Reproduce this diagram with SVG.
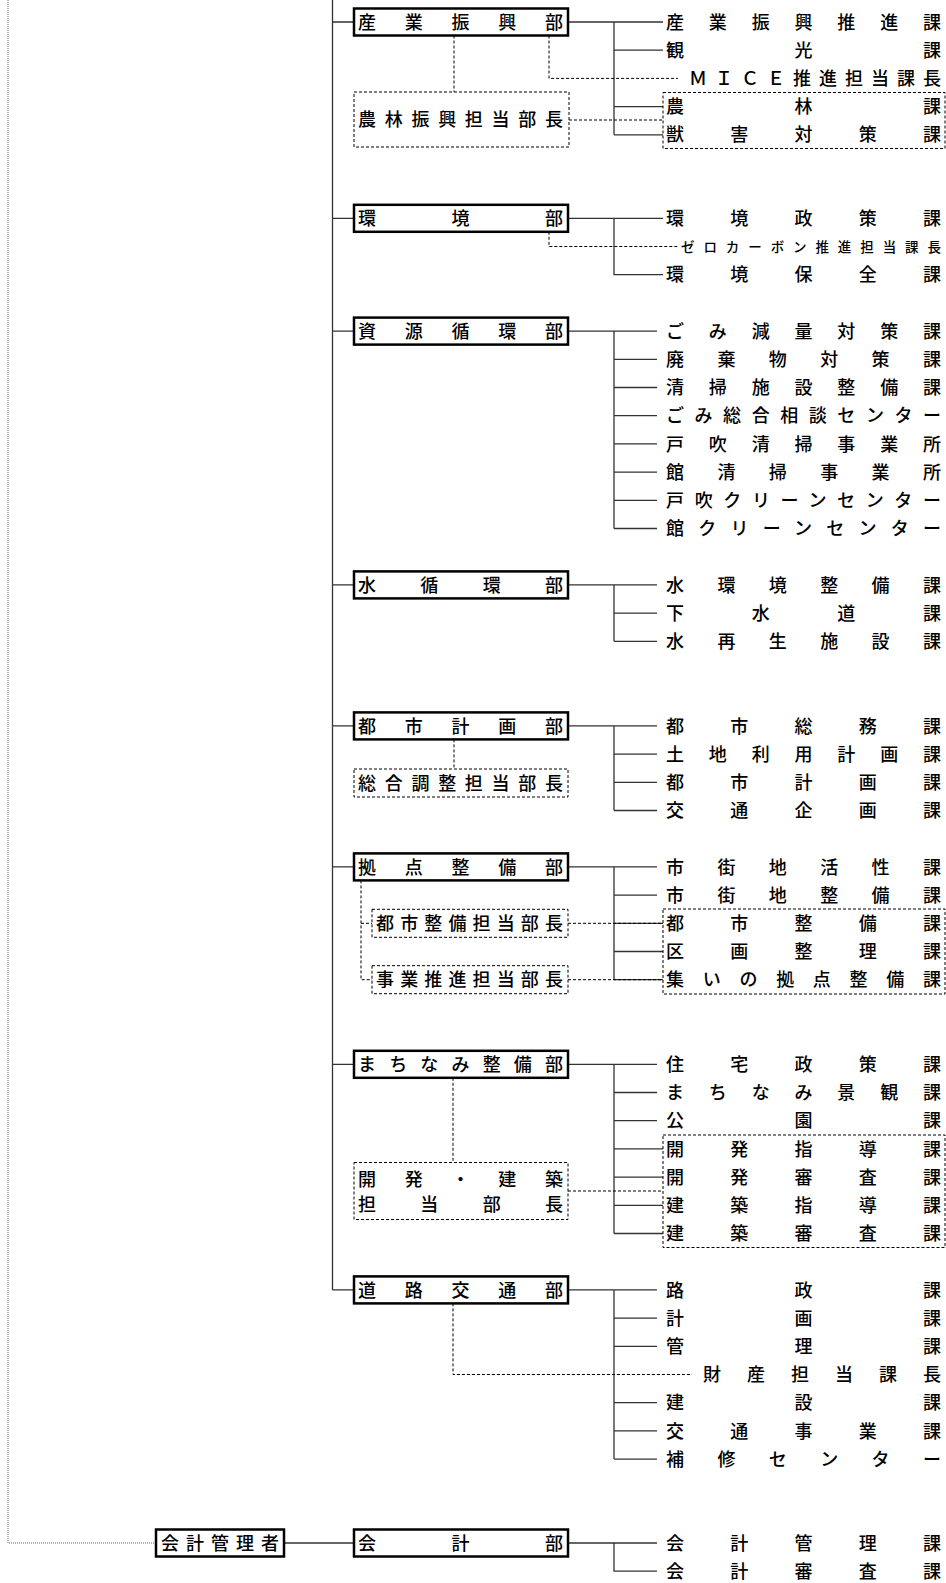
<svg xmlns="http://www.w3.org/2000/svg" width="946" height="1583" viewBox="0 0 946 1583">
<style>
text{font-family:"Noto Sans CJK JP","Noto Sans CJK SC",sans-serif;font-size:18px;font-weight:500;fill:#000}
text.s{font-size:13.5px}
.box{fill:#fff;stroke:#000;stroke-width:2.5}
.dbox{fill:none;stroke:#000;stroke-width:1;stroke-dasharray:3 2}
.ln{fill:none;stroke:#333;stroke-width:1.3}
.dl{fill:none;stroke:#000;stroke-width:1;stroke-dasharray:3 2}
.dot{fill:none;stroke:#666;stroke-width:1;stroke-dasharray:1 1}
</style>
<rect width="946" height="1583" fill="#fff"/>
<g id="connectors">
<path class="dot" d="M8 0V1543H156"/>
<path class="ln" d="M332.5 0V1289.9M332.5 22H354M332.5 218.3H354M332.5 331.1H354M332.5 584.9H354M332.5 725.9H354M332.5 866.9H354M332.5 1064.3H354M332.5 1289.9H354"/>
<path class="ln" d="M568 22H663M614 22V134.8M614 50.2H663M614 106.6H663M614 134.8H663"/>
<path class="ln" d="M568 218.3H663M614 218.3V274.7H663"/>
<path class="ln" d="M568 331.1H657M614 331.1V528.5M614 359.3H657M614 387.5H657M614 415.7H657M614 443.9H657M614 472.1H657M614 500.3H657M614 528.5H657"/>
<path class="ln" d="M568 584.9H657M614 584.9V641.3M614 613.1H657M614 641.3H657"/>
<path class="ln" d="M568 725.9H657M614 725.9V810.5M614 754.1H657M614 782.3H657M614 810.5H657"/>
<path class="ln" d="M568 866.9H657M614 866.9V979.7M614 895.1H657M614 923.3H663M614 951.5H663M614 979.7H663"/>
<path class="ln" d="M568 1064.3H657M614 1064.3V1233.5M614 1092.5H657M614 1120.7H657M614 1148.9H663M614 1177.1H663M614 1205.3H663M614 1233.5H663"/>
<path class="ln" d="M568 1289.9H657M614 1289.9V1459.1M614 1318.1H657M614 1346.3H657M614 1402.7H657M614 1430.9H657M614 1459.1H657"/>
<path class="ln" d="M284 1543H354M568 1543H657M614 1543V1571.2H657"/>
<path class="dl" d="M454 35.5V92M549 35.5V78.4H678M569 120H663"/>
<path class="dl" d="M549 231.8V246.5H679"/>
<path class="dl" d="M454 739.4V769"/>
<path class="dl" d="M361 880.4V979.7H372M361 923.3H372M568 923.3H663M568 979.7H663"/>
<path class="dl" d="M453 1077.8V1162.5M568 1191H663"/>
<path class="dl" d="M453 1303.4V1374.5H692"/>
</g>
<g id="dept-sangyo">
<rect class="box" x="354" y="8.5" width="214" height="27"/>
<text x="358" y="28.6" textLength="205" lengthAdjust="spacing">産業振興部</text>
</g>
<g id="sub-norin">
<rect class="dbox" x="354" y="92" width="215" height="55"/>
<text x="358" y="126.1" textLength="205" lengthAdjust="spacing">農林振興担当部長</text>
</g>
<g id="sangyo-children">
<rect class="dbox" x="663" y="92.5" width="282" height="56"/>
<text x="666" y="28.6" textLength="275" lengthAdjust="spacing">産業振興推進課</text>
<text x="666" y="56.8" textLength="275" lengthAdjust="spacing">観光課</text>
<text x="689" y="85" textLength="252" lengthAdjust="spacing">ＭＩＣＥ推進担当課長</text>
<text x="666" y="113.2" textLength="275" lengthAdjust="spacing">農林課</text>
<text x="666" y="141.4" textLength="275" lengthAdjust="spacing">獣害対策課</text>
</g>
<g id="dept-kankyo">
<rect class="box" x="354" y="204.8" width="214" height="27"/>
<text x="358" y="224.9" textLength="205" lengthAdjust="spacing">環境部</text>
</g>
<g id="kankyo-children">
<text x="666" y="224.9" textLength="275" lengthAdjust="spacing">環境政策課</text>
<text class="s" x="681" y="251.5" textLength="260" lengthAdjust="spacing">ゼロカーボン推進担当課長</text>
<text x="666" y="281.3" textLength="275" lengthAdjust="spacing">環境保全課</text>
</g>
<g id="dept-shigen">
<rect class="box" x="354" y="317.6" width="214" height="27"/>
<text x="358" y="337.7" textLength="205" lengthAdjust="spacing">資源循環部</text>
</g>
<g id="shigen-children">
<text x="666" y="337.7" textLength="275" lengthAdjust="spacing">ごみ減量対策課</text>
<text x="666" y="365.9" textLength="275" lengthAdjust="spacing">廃棄物対策課</text>
<text x="666" y="394.1" textLength="275" lengthAdjust="spacing">清掃施設整備課</text>
<text x="666" y="422.3" textLength="275" lengthAdjust="spacing">ごみ総合相談センター</text>
<text x="666" y="450.5" textLength="275" lengthAdjust="spacing">戸吹清掃事業所</text>
<text x="666" y="478.7" textLength="275" lengthAdjust="spacing">館清掃事業所</text>
<text x="666" y="506.9" textLength="275" lengthAdjust="spacing">戸吹クリーンセンター</text>
<text x="666" y="535.1" textLength="275" lengthAdjust="spacing">館クリーンセンター</text>
</g>
<g id="dept-mizu">
<rect class="box" x="354" y="571.4" width="214" height="27"/>
<text x="358" y="591.5" textLength="205" lengthAdjust="spacing">水循環部</text>
</g>
<g id="mizu-children">
<text x="666" y="591.5" textLength="275" lengthAdjust="spacing">水環境整備課</text>
<text x="666" y="619.7" textLength="275" lengthAdjust="spacing">下水道課</text>
<text x="666" y="647.9" textLength="275" lengthAdjust="spacing">水再生施設課</text>
</g>
<g id="dept-toshikeikaku">
<rect class="box" x="354" y="712.4" width="214" height="27"/>
<text x="358" y="732.5" textLength="205" lengthAdjust="spacing">都市計画部</text>
</g>
<g id="sub-sogo">
<rect class="dbox" x="354" y="769" width="214" height="28"/>
<text x="358" y="789.6" textLength="205" lengthAdjust="spacing">総合調整担当部長</text>
</g>
<g id="toshikeikaku-children">
<text x="666" y="732.5" textLength="275" lengthAdjust="spacing">都市総務課</text>
<text x="666" y="760.7" textLength="275" lengthAdjust="spacing">土地利用計画課</text>
<text x="666" y="788.9" textLength="275" lengthAdjust="spacing">都市計画課</text>
<text x="666" y="817.1" textLength="275" lengthAdjust="spacing">交通企画課</text>
</g>
<g id="dept-kyoten">
<rect class="box" x="354" y="853.4" width="214" height="27"/>
<text x="358" y="873.5" textLength="205" lengthAdjust="spacing">拠点整備部</text>
</g>
<g id="sub-toshiseibi">
<rect class="dbox" x="372" y="909.3" width="196" height="28"/>
<text x="376" y="929.9" textLength="187" lengthAdjust="spacing">都市整備担当部長</text>
</g>
<g id="sub-jigyo">
<rect class="dbox" x="372" y="965.7" width="196" height="28"/>
<text x="376" y="986.3" textLength="187" lengthAdjust="spacing">事業推進担当部長</text>
</g>
<g id="kyoten-children">
<rect class="dbox" x="663" y="909" width="282" height="85"/>
<text x="666" y="873.5" textLength="275" lengthAdjust="spacing">市街地活性課</text>
<text x="666" y="901.7" textLength="275" lengthAdjust="spacing">市街地整備課</text>
<text x="666" y="929.9" textLength="275" lengthAdjust="spacing">都市整備課</text>
<text x="666" y="958.1" textLength="275" lengthAdjust="spacing">区画整理課</text>
<text x="666" y="986.3" textLength="275" lengthAdjust="spacing">集いの拠点整備課</text>
</g>
<g id="dept-machinami">
<rect class="box" x="354" y="1050.8" width="214" height="27"/>
<text x="358" y="1070.9" textLength="205" lengthAdjust="spacing">まちなみ整備部</text>
</g>
<g id="sub-kaihatsu">
<rect class="dbox" x="354" y="1162.5" width="214" height="57"/>
<text x="358" y="1186" textLength="205" lengthAdjust="spacing">開発・建築</text>
<text x="358" y="1210.5" textLength="205" lengthAdjust="spacing">担当部長</text>
</g>
<g id="machinami-children">
<rect class="dbox" x="663" y="1135" width="282" height="112.5"/>
<text x="666" y="1070.9" textLength="275" lengthAdjust="spacing">住宅政策課</text>
<text x="666" y="1099.1" textLength="275" lengthAdjust="spacing">まちなみ景観課</text>
<text x="666" y="1127.3" textLength="275" lengthAdjust="spacing">公園課</text>
<text x="666" y="1155.5" textLength="275" lengthAdjust="spacing">開発指導課</text>
<text x="666" y="1183.7" textLength="275" lengthAdjust="spacing">開発審査課</text>
<text x="666" y="1211.9" textLength="275" lengthAdjust="spacing">建築指導課</text>
<text x="666" y="1240.1" textLength="275" lengthAdjust="spacing">建築審査課</text>
</g>
<g id="dept-doro">
<rect class="box" x="354" y="1276.4" width="214" height="27"/>
<text x="358" y="1296.5" textLength="205" lengthAdjust="spacing">道路交通部</text>
</g>
<g id="doro-children">
<text x="666" y="1296.5" textLength="275" lengthAdjust="spacing">路政課</text>
<text x="666" y="1324.7" textLength="275" lengthAdjust="spacing">計画課</text>
<text x="666" y="1352.9" textLength="275" lengthAdjust="spacing">管理課</text>
<text x="703" y="1381.1" textLength="238" lengthAdjust="spacing">財産担当課長</text>
<text x="666" y="1409.3" textLength="275" lengthAdjust="spacing">建設課</text>
<text x="666" y="1437.5" textLength="275" lengthAdjust="spacing">交通事業課</text>
<text x="666" y="1465.7" textLength="275" lengthAdjust="spacing">補修センター</text>
</g>
<g id="kaikei-kanrisha">
<rect class="box" x="156" y="1529.5" width="128" height="27"/>
<text x="161" y="1549.6" textLength="118" lengthAdjust="spacing">会計管理者</text>
</g>
<g id="dept-kaikei">
<rect class="box" x="354" y="1529.5" width="214" height="27"/>
<text x="358" y="1549.6" textLength="205" lengthAdjust="spacing">会計部</text>
</g>
<g id="kaikei-children">
<text x="666" y="1549.6" textLength="275" lengthAdjust="spacing">会計管理課</text>
<text x="666" y="1577.8" textLength="275" lengthAdjust="spacing">会計審査課</text>
</g>
</svg>
